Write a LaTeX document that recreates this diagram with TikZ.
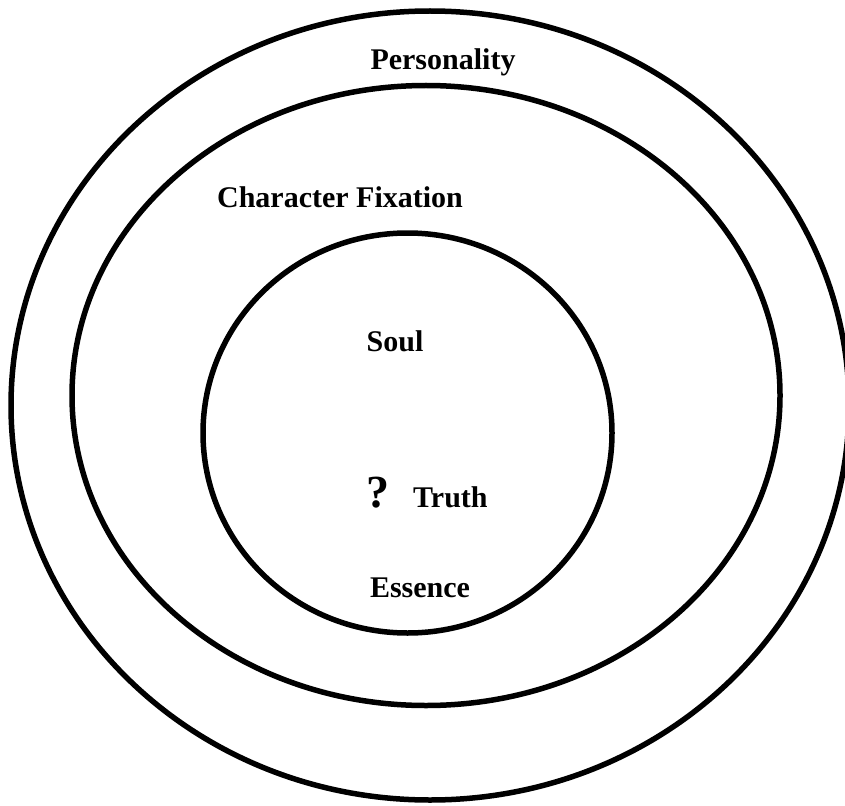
\documentclass[tikz,border=0pt]{standalone}
\usepackage{fontspec}
\setmainfont{Liberation Serif}
\begin{document}
\begin{tikzpicture}[x=1pt,y=-1pt,
  ring/.style={draw=black,line width=5.5pt},
  lbl/.style={inner sep=0pt,anchor=base,font=\fontsize{30}{30}\selectfont\bfseries}]
\useasboundingbox (0,0) rectangle (845,805);
\fill[white] (0,0) rectangle (845,805);
\draw[ring] (430,405.5) ellipse [x radius=419pt, y radius=394.5pt];
\draw[ring] (426,395.5) ellipse [x radius=354pt, y radius=310pt];
\draw[ring] (407.5,433) ellipse [x radius=204.5pt, y radius=200pt];
\node[lbl] (personality) at (443,70) {Personality};
\node[lbl] (character) at (340,207) {Character Fixation};
\node[lbl] (soul) at (395,351) {Soul};
\node[lbl,anchor=base west,font=\fontsize{46}{46}\selectfont\bfseries] (q) at (366,507) {?};
\node[lbl,anchor=base west] (truth) at (413,507) {Truth};
\node[lbl] (essence) at (420,597) {Essence};
\end{tikzpicture}
\end{document}
